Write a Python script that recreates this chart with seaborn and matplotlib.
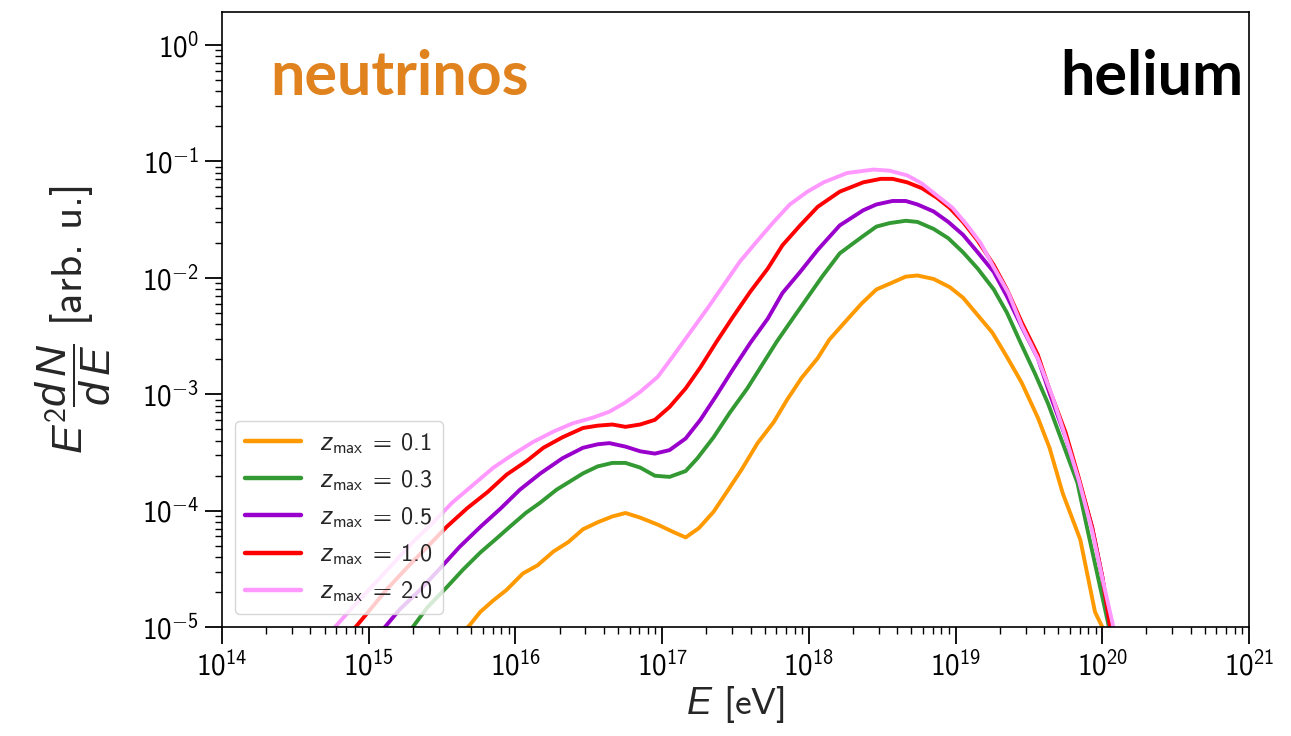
import numpy as np
import pandas as pd
import matplotlib
matplotlib.use("Agg")
import matplotlib.pyplot as plt
import matplotlib.ticker as mticker
import seaborn as sns

# log10(E / eV) and log10(E^2 dN/dE), one pair of lists per z_max
logE_z01 = [15.60, 15.69, 15.76, 15.85, 15.94, 16.05, 16.15, 16.26, 16.36, 16.46, 16.56, 16.66, 16.75,
            16.85, 16.97, 17.07, 17.16, 17.25, 17.35, 17.44, 17.54, 17.65, 17.76, 17.85, 17.95, 18.06,
            18.14, 18.26, 18.36, 18.46, 18.57, 18.66, 18.74, 18.85, 18.96, 19.05, 19.15, 19.25, 19.35,
            19.45, 19.56, 19.64, 19.73, 19.85, 19.95, 20.00, 20.02]
logF_z01 = [-5.10, -4.98, -4.87, -4.77, -4.68, -4.54, -4.47, -4.35, -4.27, -4.16, -4.10, -4.05, -4.02,
            -4.06, -4.12, -4.18, -4.23, -4.15, -4.01, -3.84, -3.65, -3.42, -3.24, -3.05, -2.86, -2.69,
            -2.53, -2.36, -2.22, -2.10, -2.04, -1.99, -1.98, -2.01, -2.08, -2.17, -2.32, -2.47, -2.68,
            -2.90, -3.20, -3.46, -3.85, -4.25, -4.87, -5.00, -5.20]

logE_z03 = [15.24, 15.30, 15.40, 15.53, 15.64, 15.76, 15.87, 15.96, 16.07, 16.17, 16.28, 16.37, 16.46,
            16.56, 16.66, 16.75, 16.85, 16.95, 17.05, 17.16, 17.24, 17.35, 17.46, 17.58, 17.68, 17.78,
            17.89, 17.99, 18.09, 18.21, 18.36, 18.46, 18.55, 18.66, 18.74, 18.85, 18.95, 19.05, 19.15,
            19.26, 19.35, 19.44, 19.54, 19.63, 19.73, 19.83, 19.90, 19.97, 20.04, 20.07]
logF_z03 = [-5.10, -5.00, -4.83, -4.66, -4.51, -4.36, -4.24, -4.14, -4.02, -3.93, -3.82, -3.75, -3.68,
            -3.62, -3.59, -3.59, -3.63, -3.70, -3.71, -3.66, -3.55, -3.37, -3.16, -2.95, -2.75, -2.55,
            -2.35, -2.17, -1.99, -1.79, -1.65, -1.56, -1.53, -1.51, -1.52, -1.58, -1.66, -1.78, -1.92,
            -2.10, -2.30, -2.55, -2.82, -3.08, -3.42, -3.76, -4.17, -4.57, -4.97, -5.20]

logE_z05 = [15.05, 15.11, 15.21, 15.35, 15.49, 15.62, 15.76, 15.90, 16.03, 16.17, 16.32, 16.46, 16.56,
            16.64, 16.75, 16.85, 16.95, 17.05, 17.16, 17.26, 17.37, 17.48, 17.60, 17.72, 17.82, 17.94,
            18.06, 18.21, 18.37, 18.46, 18.57, 18.66, 18.74, 18.85, 18.95, 19.05, 19.15, 19.26, 19.35,
            19.45, 19.56, 19.64, 19.75, 19.84, 19.93, 20.00, 20.05, 20.08]
logF_z05 = [-5.10, -5.00, -4.85, -4.68, -4.49, -4.31, -4.14, -3.98, -3.82, -3.68, -3.55, -3.46, -3.43,
            -3.42, -3.45, -3.49, -3.51, -3.48, -3.38, -3.22, -3.01, -2.79, -2.56, -2.35, -2.13, -1.95,
            -1.76, -1.55, -1.42, -1.37, -1.34, -1.34, -1.37, -1.43, -1.52, -1.63, -1.78, -1.95, -2.16,
            -2.42, -2.69, -2.99, -3.37, -3.74, -4.14, -4.57, -4.97, -5.20]

logE_z10 = [14.85, 14.91, 14.99, 15.12, 15.26, 15.40, 15.53, 15.67, 15.81, 15.94, 16.08, 16.19, 16.32,
            16.46, 16.56, 16.66, 16.75, 16.85, 16.95, 17.05, 17.16, 17.26, 17.37, 17.48, 17.60, 17.72,
            17.82, 17.94, 18.06, 18.21, 18.37, 18.49, 18.57, 18.67, 18.77, 18.87, 18.96, 19.05, 19.15,
            19.26, 19.35, 19.45, 19.56, 19.64, 19.75, 19.84, 19.93, 20.00, 20.05, 20.08]
logF_z10 = [-5.10, -5.00, -4.88, -4.68, -4.49, -4.31, -4.14, -3.98, -3.84, -3.69, -3.57, -3.46, -3.37,
            -3.29, -3.27, -3.26, -3.28, -3.26, -3.22, -3.11, -2.95, -2.77, -2.55, -2.34, -2.12, -1.92,
            -1.72, -1.55, -1.39, -1.26, -1.18, -1.15, -1.15, -1.18, -1.23, -1.31, -1.40, -1.52, -1.68,
            -1.89, -2.10, -2.38, -2.66, -2.96, -3.33, -3.72, -4.14, -4.57, -4.97, -5.20]

logE_z20 = [14.70, 14.77, 14.89, 15.03, 15.17, 15.30, 15.44, 15.57, 15.71, 15.85, 15.98, 16.12, 16.26,
            16.39, 16.53, 16.64, 16.75, 16.85, 16.97, 17.07, 17.19, 17.31, 17.42, 17.53, 17.65, 17.76,
            17.87, 17.99, 18.10, 18.26, 18.44, 18.55, 18.67, 18.77, 18.87, 18.98, 19.08, 19.17, 19.26,
            19.36, 19.45, 19.56, 19.66, 19.75, 19.84, 19.93, 20.00, 20.07, 20.10]
logF_z20 = [-5.10, -5.00, -4.83, -4.64, -4.45, -4.27, -4.10, -3.93, -3.78, -3.63, -3.52, -3.41, -3.32,
            -3.25, -3.20, -3.15, -3.07, -2.98, -2.85, -2.68, -2.47, -2.26, -2.06, -1.86, -1.68, -1.52,
            -1.37, -1.26, -1.18, -1.10, -1.07, -1.08, -1.12, -1.19, -1.29, -1.40, -1.55, -1.70, -1.91,
            -2.13, -2.41, -2.69, -3.02, -3.37, -3.74, -4.17, -4.58, -4.97, -5.20]

zmax_labels = ["0.1", "0.3", "0.5", "1.0", "2.0"]
series = [(logE_z01, logF_z01), (logE_z03, logF_z03), (logE_z05, logF_z05),
          (logE_z10, logF_z10), (logE_z20, logF_z20)]
colors = ["#FF9900", "#339933", "#9900CC", "#FF0000", "#FF99FF"]

sns.set_style("ticks")
plt.rcParams["font.family"] = ["cmss10", "DejaVu Sans"]
plt.rcParams["mathtext.fontset"] = "custom"
plt.rcParams["mathtext.rm"] = "cmss10"
plt.rcParams["mathtext.sf"] = "cmss10"
plt.rcParams["mathtext.it"] = "Liberation Sans:italic"
plt.rcParams["mathtext.bf"] = "DejaVu Sans:bold"
plt.rcParams["axes.edgecolor"] = "black"
plt.rcParams["xtick.color"] = "black"
plt.rcParams["ytick.color"] = "black"


def pow10(v, pos):
    # cmss10 has no usable minus sign, so take it from the italic font
    n = int(round(np.log10(v)))
    if n < 0:
        return r"$10^{\mathit{-}%d}$" % (-n)
    return r"$10^{%d}$" % n


fig = plt.figure(figsize=(12.91, 7.36), dpi=100)
ax = fig.add_axes([0.172, 0.148, 0.7955, 0.8357])

for (le, lf), z, c in zip(series, zmax_labels, colors):
    df = pd.DataFrame({"E": 10.0 ** np.array(le), "flux": 10.0 ** np.array(lf)})
    sns.lineplot(data=df, x="E", y="flux", ax=ax, color=c, lw=2.8, sort=False,
                 label=r"$z_{\rm max}\;=\;%s$" % z)

ax.set_xscale("log")
ax.set_yscale("log")
ax.set_xlim(1e14, 1e21)
ax.set_ylim(1e-5, 1.92)
ax.xaxis.set_major_formatter(mticker.FuncFormatter(pow10))
ax.yaxis.set_major_formatter(mticker.FuncFormatter(pow10))

ax.set_xlabel(r"$E$ [eV]", fontsize=27, labelpad=2)
ax.set_ylabel(r"$E^2\dfrac{d\,N}{d\,E}$ [arb. u.]", fontsize=31)
ax.yaxis.set_label_coords(-0.106, 0.5)

ax.tick_params(which="major", length=12, width=1.3, labelsize=21, pad=5)
ax.tick_params(which="minor", length=5, width=1.0)
for s in ax.spines.values():
    s.set_linewidth(1.2)
    s.set_visible(True)

leg = ax.legend(loc="lower left", fontsize=17.5, handlelength=2.3, framealpha=0.8,
                edgecolor="#cccccc", borderaxespad=0.55)
for line in leg.get_lines():
    line.set_linewidth(3.2)

ax.text(0.047, 0.865, "neutrinos", transform=ax.transAxes, fontsize=44, fontweight="bold",
        family="Lato", color="#E0821E", ha="left", va="baseline")
ax.text(0.994, 0.865, "helium", transform=ax.transAxes, fontsize=44, fontweight="bold",
        family="Lato", color="black", ha="right", va="baseline")

fig.savefig("out.png", dpi=100)
